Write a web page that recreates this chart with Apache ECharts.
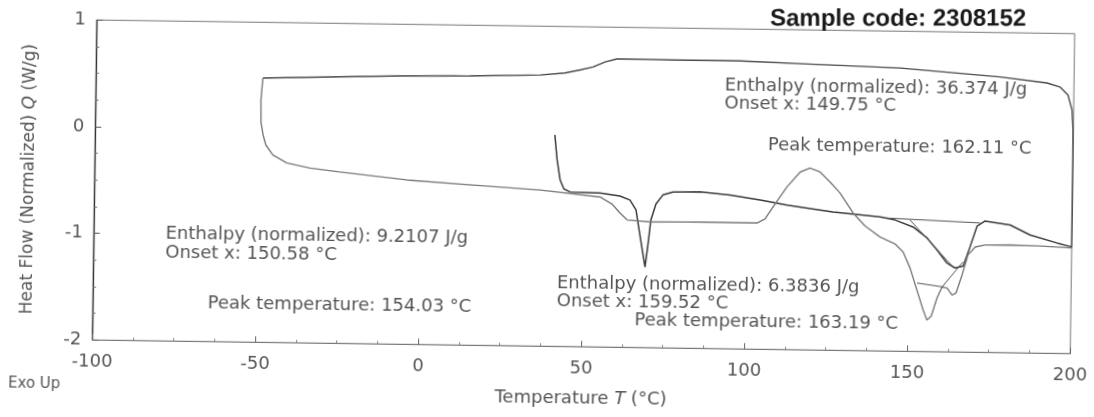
<!DOCTYPE html>
<html>
<head>
<meta charset="utf-8">
<title>DSC heat flow</title>
<script src="https://cdn.jsdelivr.net/npm/echarts@6.0.0/dist/echarts.min.js"></script>
<style>
  html, body { margin: 0; padding: 0; background: #fff; overflow: hidden; }
  /* the scan is tilted a little clockwise */
  #main { width: 1094px; height: 417px; transform: rotate(0.8deg); }
</style>
</head>
<body>
<div id="main"></div>
<script>
// first heating (starts near 41 °C)
const heat1T = [41.0, 41.8, 42.8, 44.0, 45.9, 55.1, 61.2, 64.3, 66.2, 67.5, 69.2, 70.0, 70.8, 72.3, 74.4, 77.5, 85.8, 95.0, 104.2, 112.5,
  126.6, 141.1, 145.7, 151.3, 155.6, 158.7, 161.8, 164.3, 166.8, 168.8, 170.9, 173.3, 181.0, 187.2, 195.5, 200]
const heat1Q = [-0.018, -0.252, -0.439, -0.523, -0.55, -0.556, -0.581, -0.618, -0.71, -0.944, -1.244, -1.037, -0.802, -0.652, -0.566, -0.537, -0.533, -0.558, -0.60, -0.644,
  -0.703, -0.744, -0.77, -0.834, -0.935, -1.046, -1.167, -1.212, -1.193, -1.014, -0.816, -0.768, -0.802, -0.893, -0.965, -1.00]

// cooling 200 -> -49 °C
const coolT = [200, 200, 200, 199.9, 199.5, 198.2, 195.7, 191.7, 177.3, 146.6, 118.0, 97.5, 76.9, 62.2, 59.7, 56.1, 52.4, 48.4, 43.8, 36.2, 14.7, -6.8, -28.2, -48.8]
const coolQ = [-1.00, -0.56, -0.18, 0.10, 0.284, 0.424, 0.498, 0.534, 0.584, 0.655, 0.681, 0.70, 0.70, 0.704, 0.703, 0.673, 0.624, 0.595, 0.565, 0.542, 0.524, 0.515, 0.496, 0.478]

// second heating -49 -> 200 °C
const heat2T = [-48.8, -49.3, -49.2, -48.5, -47.6, -45.4, -41.1, -34.0, -24.8, -4.2, 16.1, 36.7, 55.1, 58.8, 61.3, 63.5, 70.5, 85.9, 103.4, 105.8,
  108.2, 112.4, 116.4, 119.4, 122.5, 125.6, 128.7, 132.8, 136.5, 141.2, 145.8, 148.3, 150.5, 152.7, 154.7, 155.9, 157.2, 158.9, 160.4, 161.9,
  163.5, 164.7, 166.5, 168.2, 170.4, 173.4, 181.1, 190.3, 200]
const heat2Q = [0.478, 0.272, 0.065, -0.056, -0.15, -0.243, -0.316, -0.36, -0.393, -0.459, -0.498, -0.536, -0.593, -0.657, -0.741, -0.805, -0.821, -0.815, -0.816, -0.778,
  -0.664, -0.475, -0.333, -0.294, -0.33, -0.423, -0.524, -0.71, -0.83, -0.932, -0.995, -1.069, -1.218, -1.424, -1.61, -1.704, -1.666, -1.496, -1.392, -1.401,
  -1.466, -1.447, -1.277, -1.089, -1.013, -0.993, -0.99, -0.995, -1.009]

// evaluation baselines / tangents drawn by the software
const baseAT = [152.7, 160.7]
const baseAQ = [-1.358, -1.392]
const baseBT = [143.2, 171.8]
const baseBQ = [-0.753, -0.787]
const tanAT = [160.4, 166.7]
const tanAQ = [-1.392, -1.155]
const tanBT = [150.3, 163.4]
const tanBQ = [-0.769, -1.194]

const xTicks = [-100, 200, 50]
const yTicks = [-2, 1, 1]

// result boxes
const notes = [
  ['Enthalpy (normalized): 36.374 J/g', 723, 83],
  ['Onset x: 149.75 °C', 723, 101],
  ['Peak temperature: 162.11 °C', 767, 142],
  ['Enthalpy (normalized): 9.2107 J/g', 166, 239],
  ['Onset x: 150.58 °C', 166, 258],
  ['Peak temperature: 154.03 °C', 209, 308],
  ['Enthalpy (normalized): 6.3836 J/g', 558, 283],
  ['Onset x: 159.52 °C', 558, 301],
  ['Peak temperature: 163.19 °C', 636, 319]
]

const zip = (xs, ys) => xs.map((x, i) => [x, ys[i]])
const curve = (name, xs, ys, color, width) => ({
  name,
  type: 'line',
  data: zip(xs, ys),
  showSymbol: false,
  symbol: 'none',
  smooth: false,
  lineStyle: { color, width },
  silent: true,
  z: 3
})

const txt = '#555'
const font = '"DejaVu Sans", sans-serif'

const chart = echarts.init(document.getElementById('main'))
chart.setOption({
  animation: false,
  backgroundColor: '#fff',
  grid: {
    left: 94.2, top: 26.3, width: 978, height: 320,
    show: true, borderColor: '#777', borderWidth: 1
  },
  xAxis: {
    type: 'value',
    min: xTicks[0], max: xTicks[1], interval: xTicks[2],
    name: 'Temperature {i|T} (°C)',
    nameLocation: 'middle',
    nameGap: 43,
    nameTextStyle: { color: txt, fontSize: 18, fontFamily: font, rich: { i: { fontStyle: 'italic', fontSize: 18, fontFamily: font, color: txt } } },
    axisLine: { onZero: false, lineStyle: { color: '#777', width: 1 } },
    axisTick: { inside: true, length: 6, lineStyle: { color: '#666' } },
    minorTick: { show: true, splitNumber: 4, length: 3, lineStyle: { color: '#888' } },
    axisLabel: { color: txt, fontSize: 18, fontFamily: font, margin: 13 },
    splitLine: { show: false }
  },
  yAxis: {
    type: 'value',
    min: yTicks[0], max: yTicks[1], interval: yTicks[2],
    name: 'Heat Flow (Normalized) {i|Q} (W/g)',
    nameLocation: 'middle',
    nameGap: 57,
    nameTextStyle: { color: txt, fontSize: 17, fontFamily: font, rich: { i: { fontStyle: 'italic', fontSize: 17, fontFamily: font, color: txt } } },
    axisLine: { show: true, onZero: false, lineStyle: { color: '#333', width: 1.3 } },
    axisTick: { inside: true, length: 6, lineStyle: { color: '#555' } },
    minorTick: { show: true, splitNumber: 4, length: 3, lineStyle: { color: '#777' } },
    axisLabel: { color: txt, fontSize: 18, fontFamily: font, margin: 11 },
    splitLine: { show: false }
  },
  series: [
    curve('cooling', coolT, coolQ, '#4a4a4a', 1.4),
    curve('1st heating', heat1T, heat1Q, '#3a3a3a', 1.5),
    curve('2nd heating', heat2T, heat2Q, '#7a7a7a', 1.4),
    curve('baseline A', baseAT, baseAQ, '#555', 1),
    curve('baseline B', baseBT, baseBQ, '#555', 1),
    curve('tangent A', tanAT, tanAQ, '#555', 1),
    curve('tangent B', tanBT, tanBQ, '#555', 1)
  ],
  graphic: notes.map(n => ({
    type: 'text',
    x: n[1],
    y: n[2],
    silent: true,
    style: { text: n[0], font: '18px ' + font, fill: txt, verticalAlign: 'middle' }
  })).concat([
    {
      type: 'text', x: 10.5, y: 391.5, silent: true,
      style: { text: 'Exo Up', font: '15px ' + font, fill: txt, verticalAlign: 'middle' }
    },
    {
      type: 'text', x: 767.4, y: 16, rotation: 0.8 * Math.PI / 180, silent: true,
      style: { text: 'Sample code: 2308152', font: 'bold 24px "Liberation Sans", Arial, sans-serif', fill: '#1a1a1a', verticalAlign: 'middle' }
    }
  ])
})
</script>
</body>
</html>
